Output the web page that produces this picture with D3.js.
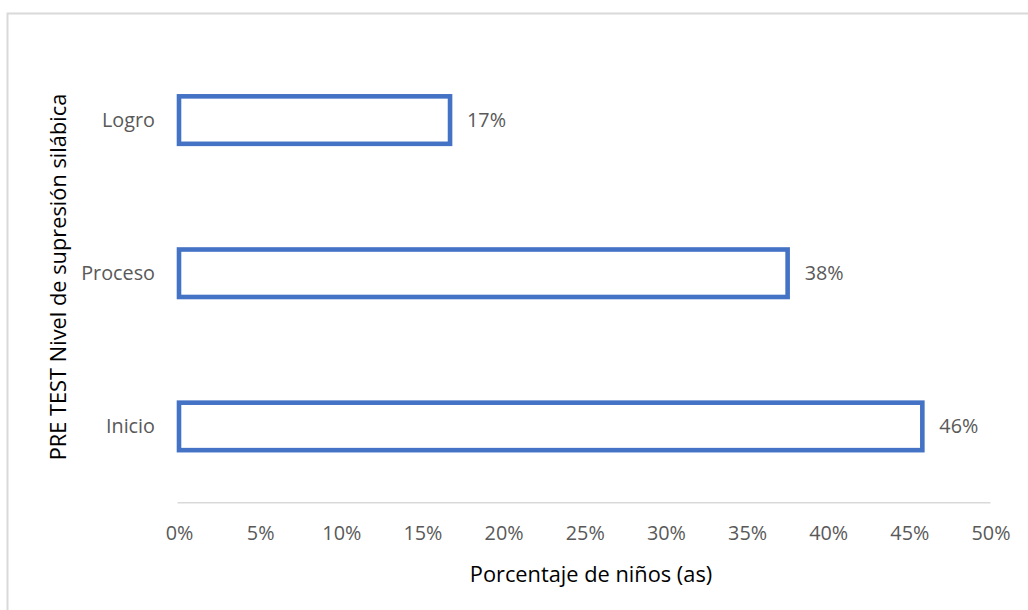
<!DOCTYPE html>
<html>
<head>
<meta charset="utf-8">
<script src="https://cdn.jsdelivr.net/npm/d3@7"></script>
<style>
  html, body { margin: 0; padding: 0; background: #fff; }
  svg { display: block; }
  text { font-family: "Open Sans", Lato, sans-serif; }
</style>
</head>
<body>
<svg id="chart" width="1028" height="610"></svg>
<script>
const categories = ["Logro", "Proceso", "Inicio"];
const values = [16.7, 37.5, 45.8];
const valueLabels = ["17%", "38%", "46%"];
const tickValues = [0, 5, 10, 15, 20, 25, 30, 35, 40, 45, 50];
const xTitle = "Porcentaje de niños (as)";
const yTitle = "PRE TEST Nivel de supresión silábica";

const svg = d3.select("#chart");
const W = 1028, H = 610;
const FONT = "'Open Sans', Lato, sans-serif";
const FS = "19.8px";
const FS_TITLE = "21.8px";
const margin = { left: 179, right: 38, top: 43.5, bottom: 107.5 };

// chart border (extends past right and bottom edges)
svg.append("rect")
  .attr("x", 7.5).attr("y", 13.5)
  .attr("width", W + 20).attr("height", H + 20)
  .attr("fill", "#fff").attr("stroke", "#D9D9D9").attr("stroke-width", 2);

const x = d3.scaleLinear().domain([0, 50]).range([margin.left, 990.5]);
const y = d3.scaleBand().domain(categories).range([margin.top, 503]).paddingInner(0.69).paddingOuter(0.345);

// x axis line
svg.append("line")
  .attr("x1", 177.5).attr("x2", 990.5)
  .attr("y1", 502.7).attr("y2", 502.7)
  .attr("stroke", "#D9D9D9").attr("stroke-width", 1.5);

// x tick labels
const xAxis = d3.axisBottom(x).tickValues(tickValues).tickFormat(d => d + "%").tickSize(0).tickPadding(0);
const gx = svg.append("g").attr("transform", "translate(0,539.5)").call(xAxis);
gx.select(".domain").remove();
gx.selectAll("text")
  .attr("dy", 0).attr("y", 0)
  .attr("fill", "#595959").style("font-size", FS).style("font-family", FONT);

// y category labels
const yAxis = d3.axisLeft(y).tickSize(0).tickPadding(0);
const gy = svg.append("g").attr("transform", "translate(155,0)").call(yAxis);
gy.select(".domain").remove();
gy.selectAll("text")
  .attr("fill", "#595959").attr("dy", "0.35em")
  .style("font-size", FS).style("font-family", FONT);

// bars
svg.selectAll("rect.bar").data(categories).enter().append("rect")
  .attr("class", "bar")
  .attr("x", x(0))
  .attr("y", d => y(d))
  .attr("width", (d, i) => x(values[i]) - x(0))
  .attr("height", y.bandwidth())
  .attr("fill", "#fff")
  .attr("stroke", "#4472C4")
  .attr("stroke-width", 4.6);

// value labels
svg.selectAll("text.val").data(categories).enter().append("text")
  .attr("class", "val")
  .attr("x", (d, i) => x(values[i]) + 17)
  .attr("y", d => y(d) + y.bandwidth() / 2)
  .attr("dy", "0.35em")
  .attr("fill", "#595959")
  .style("font-size", FS)
  .text((d, i) => valueLabels[i]);

// x axis title
svg.append("text")
  .attr("x", 591)
  .attr("y", 582)
  .attr("text-anchor", "middle")
  .attr("fill", "#000")
  .style("font-size", FS_TITLE)
  .text(xTitle);

// y axis title
svg.append("text")
  .attr("transform", `translate(66,277) rotate(-90)`)
  .attr("text-anchor", "middle")
  .attr("fill", "#000")
  .style("font-size", FS_TITLE)
  .text(yTitle);
</script>
</body>
</html>
